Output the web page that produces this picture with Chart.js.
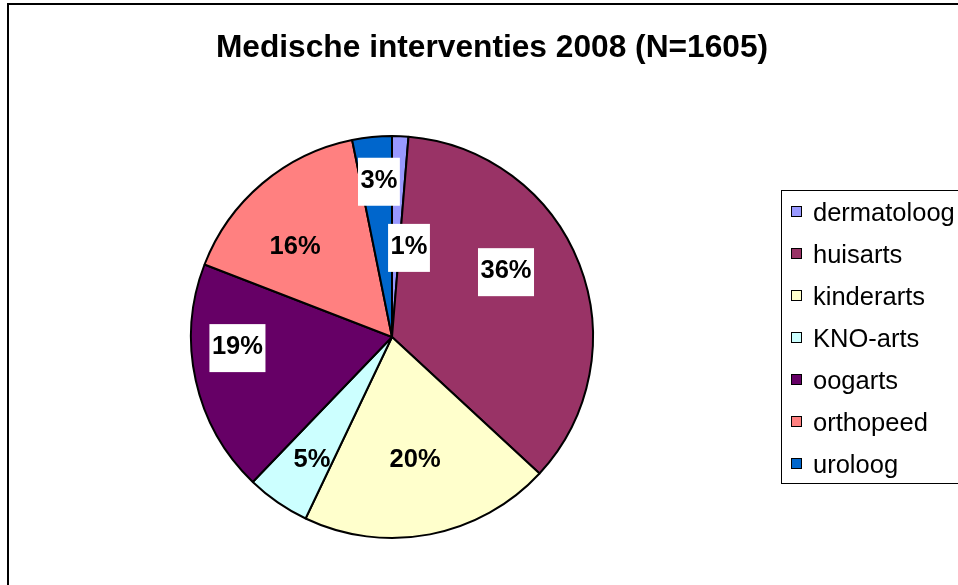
<!DOCTYPE html>
<html>
<head>
<meta charset="utf-8">
<script src="https://cdn.jsdelivr.net/npm/chart.js@4"></script>
<style>
html,body{margin:0;padding:0;background:#fff;}
canvas{display:block;}
</style>
</head>
<body>
<canvas id="mychart" width="958" height="585"></canvas>
<script>
// data (N=1605)
var title = 'Medische interventies 2008 (N=1605)'
var labels = ['dermatoloog','huisarts','kinderarts','KNO-arts','oogarts','orthopeed','uroloog']
var counts = [21, 571, 324, 82, 300, 256, 51]
var colors = ['#9999FF','#993366','#FFFFCC','#CCFFFF','#660066','#FF8080','#0066CC']

// where Excel put each percentage label: degrees off the slice middle, fraction of radius
var labelShift = [8.1, -9.5, 0, -1.1, 9.5, -6.3, 1]
var labelDist = [0.466, 0.66, 0.61, 0.72, 0.77, 0.665, 0.79]
var labelBoxed = [true, true, false, false, true, false, true]

var FONT = '"Liberation Sans", Arial, sans-serif'

var frame = {
  id:'frame',
  beforeDraw:function(chart){
    var ctx = chart.ctx
    ctx.save()
    ctx.fillStyle = '#fff'
    ctx.fillRect(0,0,chart.width,chart.height)
    ctx.strokeStyle = '#000'
    ctx.lineWidth = 2
    ctx.strokeRect(8,4,1000,700)
    ctx.fillStyle = '#000'
    ctx.font = 'bold 31.7px ' + FONT
    ctx.textAlign = 'center'
    ctx.textBaseline = 'alphabetic'
    ctx.fillText(title, 492, 57)
    ctx.restore()
  },
  afterDraw:function(chart){
    var ctx = chart.ctx
    ctx.save()
    // legend box
    ctx.strokeStyle = '#000'
    ctx.lineWidth = 1
    ctx.strokeRect(781.5,190.5,300,293)
    ctx.font = '25.5px ' + FONT
    ctx.textAlign = 'left'
    ctx.textBaseline = 'alphabetic'
    chart.data.labels.forEach(function(l,i){
      var y = 206 + i*42
      ctx.fillStyle = colors[i]
      ctx.fillRect(791.5, y+0.5, 10, 10)
      ctx.strokeStyle = '#000'
      ctx.strokeRect(791.5, y+0.5, 10, 10)
      ctx.fillStyle = '#000'
      ctx.fillText(l, 813, y + 14.5)
    })
    ctx.restore()
  }
}

var pctLabels = {
  id:'pctLabels',
  afterDatasetsDraw:function(chart){
    var ctx = chart.ctx
    var meta = chart.getDatasetMeta(0)
    var data = chart.data.datasets[0].data
    var total = data.reduce(function(a,b){return a+b},0)
    ctx.save()
    ctx.font = 'bold 25.5px ' + FONT
    ctx.textAlign = 'center'
    ctx.textBaseline = 'alphabetic'
    meta.data.forEach(function(arc,i){
      var p = arc.getProps(['x','y','startAngle','endAngle','outerRadius'],true)
      var a = (p.startAngle + p.endAngle)/2 + labelShift[i]*Math.PI/180
      var cx = p.x + Math.cos(a)*p.outerRadius*labelDist[i]
      var cy = p.y + Math.sin(a)*p.outerRadius*labelDist[i]
      var txt = Math.round(data[i]/total*100) + '%'
      if(labelBoxed[i]){
        var w = ctx.measureText(txt).width + 5
        ctx.fillStyle = '#fff'
        ctx.fillRect(cx - w/2, cy - 21, w, 48)
      }
      ctx.fillStyle = '#000'
      ctx.fillText(txt, cx, cy + 9.1)
    })
    ctx.restore()
  }
}

var mychart = document.getElementById('mychart').getContext('2d')
var chart = new Chart(mychart,{
  type:'pie',
  data:{
    labels:labels,
    datasets:[{
      data:counts,
      backgroundColor:colors,
      borderColor:'#000',
      borderWidth:2
    }]
  },
  options:{
    responsive:false,
    animation:false,
    devicePixelRatio:1,
    layout:{padding:{left:190,top:135,right:364,bottom:46}},
    plugins:{
      legend:{display:false},
      title:{display:false},
      tooltip:{enabled:false}
    }
  },
  plugins:[frame,pctLabels]
})
</script>
</body>
</html>
